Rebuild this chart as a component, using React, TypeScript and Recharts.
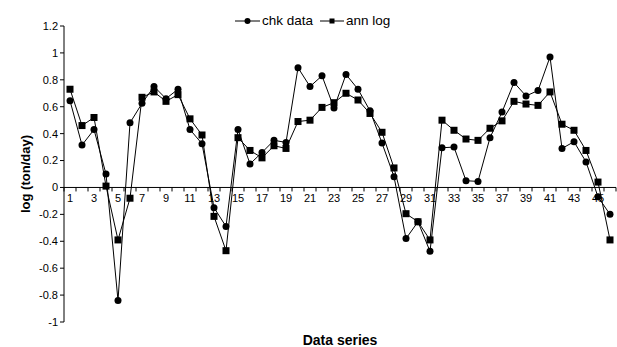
import { LineChart, Line, XAxis, YAxis, ReferenceLine } from "recharts";

const categories = [
  1, 2, 3, 4, 5, 6, 7, 8, 9, 10, 11, 12, 13, 14, 15, 16, 17, 18, 19, 20, 21, 22, 23,
  24, 25, 26, 27, 28, 29, 30, 31, 32, 33, 34, 35, 36, 37, 38, 39, 40, 41, 42, 43, 44, 45, 46,
];

const chkData = [
  0.645, 0.315, 0.43, 0.1, -0.84, 0.48, 0.625, 0.75, 0.66, 0.73,
  0.43, 0.325, -0.15, -0.29, 0.43, 0.175, 0.26, 0.35, 0.335, 0.89,
  0.75, 0.83, 0.59, 0.84, 0.73, 0.57, 0.33, 0.08, -0.38, -0.255,
  -0.475, 0.295, 0.3, 0.05, 0.045, 0.37, 0.56, 0.78, 0.68, 0.72,
  0.97, 0.29, 0.34, 0.19, -0.07, -0.2,
];

const annLog = [
  0.73, 0.46, 0.52, 0.01, -0.39, -0.08, 0.67, 0.71, 0.64, 0.69,
  0.51, 0.39, -0.215, -0.47, 0.37, 0.275, 0.22, 0.31, 0.29, 0.49,
  0.5, 0.595, 0.63, 0.7, 0.65, 0.55, 0.41, 0.145, -0.195, -0.255,
  -0.39, 0.5, 0.425, 0.36, 0.35, 0.44, 0.495, 0.64, 0.62, 0.61,
  0.71, 0.47, 0.425, 0.275, 0.04, -0.39,
];

const yTicks = [-1, -0.8, -0.6, -0.4, -0.2, 0, 0.2, 0.4, 0.6, 0.8, 1, 1.2];

const data = categories.map((c, i) => ({ name: c, chk: chkData[i], ann: annLog[i] }));

const W = 617;
const H = 347;
const TOP = 26;
const BOTTOM = 25;
const LEFT = 64;
const RIGHT = 1;
const PLOT_H = H - TOP - BOTTOM;
const PLOT_W = W - LEFT - RIGHT;
const Y_MIN = -1;
const Y_MAX = 1.2;
const ZERO_Y = TOP + PLOT_H * (Y_MAX / (Y_MAX - Y_MIN));
const BAND = PLOT_W / categories.length;
const FONT = "'Liberation Sans', Arial, sans-serif";

const renderXTick = ({ x, payload, index }: any) => {
  return (
    <g key={"t" + index}>
      {index === 0 && (
        <line x1={x - BAND / 2} x2={x - BAND / 2} y1={ZERO_Y} y2={ZERO_Y + 4} stroke="#000" />
      )}
      <line x1={x + BAND / 2} x2={x + BAND / 2} y1={ZERO_Y} y2={ZERO_Y + 4} stroke="#000" />
      {index % 2 === 0 && (
        <text x={x} y={ZERO_Y + 15} textAnchor="middle" fontSize={11} fontFamily={FONT} fill="#000">
          {payload.value}
        </text>
      )}
    </g>
  );
};

const SquareDot = (props: any) => {
  const { cx, cy, index } = props;
  return <rect key={"s" + index} x={cx - 3.5} y={cy - 3.5} width={7} height={7} fill="#000" />;
};

const LegendBox = () => (
  <div
    style={{
      position: "absolute",
      top: 13,
      left: 235,
      display: "flex",
      alignItems: "center",
      fontFamily: FONT,
      fontSize: 13.5,
      lineHeight: "15px",
      color: "#000",
      whiteSpace: "nowrap",
    }}
  >
    <svg width={25} height={10}>
      <line x1={0} x2={25} y1={5} y2={5} stroke="#000" />
      <circle cx={12.5} cy={5} r={3} fill="#000" />
    </svg>
    <span style={{ marginLeft: 2, marginRight: 7 }}>chk data</span>
    <svg width={24} height={10}>
      <line x1={0} x2={24} y1={5} y2={5} stroke="#000" />
      <rect x={9.5} y={2.5} width={5} height={5} fill="#000" />
    </svg>
    <span style={{ marginLeft: 2 }}>ann log</span>
  </div>
);

export default function App() {
  return (
    <div style={{ position: "absolute", left: 0, top: 0, width: W, height: H, background: "#fff" }}>
      <LineChart width={W} height={H} data={data} margin={{ top: TOP, right: RIGHT, bottom: 0, left: 0 }}>
        <XAxis
          dataKey="name"
          height={BOTTOM}
          interval={0}
          padding={{ left: BAND / 2, right: BAND / 2 }}
          axisLine={false}
          tickLine={false}
          tick={renderXTick}
          label={{
            value: "Data series",
            position: "insideBottom",
            offset: 2,
            style: { fontFamily: FONT, fontSize: 14, fontWeight: "bold", fill: "#000" },
          }}
        />
        <YAxis
          width={LEFT}
          domain={[Y_MIN, Y_MAX]}
          ticks={yTicks}
          interval={0}
          allowDataOverflow
          tickSize={4}
          axisLine={{ stroke: "#000" }}
          tickLine={{ stroke: "#000" }}
          tick={{ fontFamily: FONT, fontSize: 11, fill: "#000" }}
          label={{
            value: "log (ton/day)",
            angle: -90,
            position: "center",
            dx: -7,
            style: { fontFamily: FONT, fontSize: 13, fontWeight: "bold", fill: "#000", textAnchor: "middle" },
          }}
        />
        <ReferenceLine y={0} stroke="#000" />
        <Line
          dataKey="ann"
          stroke="#000"
          strokeWidth={1}
          dot={SquareDot}
          activeDot={false}
          isAnimationActive={false}
        />
        <Line
          dataKey="chk"
          stroke="#000"
          strokeWidth={1}
          dot={{ r: 3.5, fill: "#000", stroke: "#000", strokeWidth: 0 }}
          activeDot={false}
          isAnimationActive={false}
        />
      </LineChart>
      <LegendBox />
    </div>
  );
}
